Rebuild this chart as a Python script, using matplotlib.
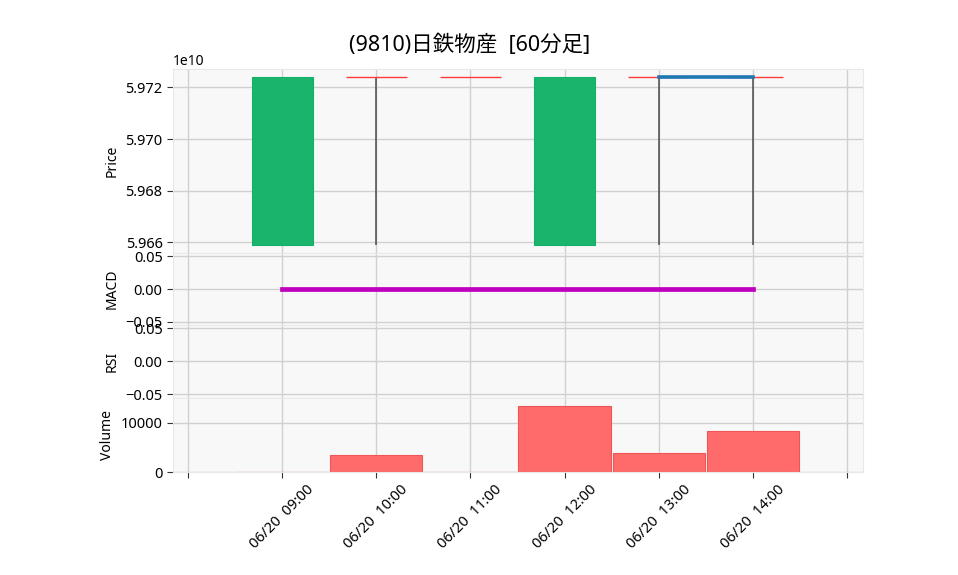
import numpy as np
import matplotlib
matplotlib.use('Agg')
import matplotlib.pyplot as plt
from matplotlib.patches import Rectangle
from matplotlib.ticker import MultipleLocator

plt.rcParams['font.family'] = ['Noto Sans', 'Noto Sans CJK JP', 'DejaVu Sans']

# data
times = ['06/20  09:00', '06/20  10:00', '06/20  11:00',
         '06/20  12:00', '06/20  13:00', '06/20  14:00']
opens = [59659200000, 59724000000, 59724000000, 59659200000, 59724000000, 59724000000]
highs = [59724000000, 59724000000, 59724000000, 59724000000, 59724000000, 59724000000]
lows = [59659200000, 59659200000, 59724000000, 59659200000, 59659200000, 59659200000]
closes = [59724000000, 59724000000, 59724000000, 59724000000, 59724000000, 59724000000]
mav = [np.nan, np.nan, np.nan, np.nan, 59724000000, 59724000000]
macd = [0, 0, 0, 0, 0, 0]
volumes = [0, 3530, 0, 13470, 3900, 8430]

up_col = '#1bb46c'
down_col = '#ff3b3b'
vol_col = '#ff6b6b'
bg = '#f8f8f8'

fig = plt.figure(figsize=(9.58, 5.75), dpi=100)
gs = fig.add_gridspec(4, 1, height_ratios=[184, 72, 72.5, 74.5], hspace=0,
                      left=0.1806, right=0.9008, top=0.88, bottom=0.179)
ax_p = fig.add_subplot(gs[0])
ax_m = fig.add_subplot(gs[1], sharex=ax_p)
ax_r = fig.add_subplot(gs[2], sharex=ax_p)
ax_v = fig.add_subplot(gs[3], sharex=ax_p)

x = np.arange(len(times))
w = 0.65

# candles
for i in x:
    o, h, l, c = opens[i], highs[i], lows[i], closes[i]
    if h != l:
        ax_p.vlines(i, l, h, color='#333333', lw=1.2, alpha=0.8, zorder=2)
    if c > o:
        ax_p.add_patch(Rectangle((i - w / 2, o), w, c - o, facecolor=up_col,
                                 edgecolor='#12b068', lw=0.8, zorder=3))
    else:
        ax_p.hlines(o, i - w / 2, i + w / 2, color=down_col, lw=1.0, zorder=3)
ax_p.plot(x, mav, color='#1f77b4', lw=2.6, zorder=4)
ax_p.set_ylim(59655900000, 59727100000)
ax_p.yaxis.set_major_locator(MultipleLocator(2e7))
ax_p.set_ylabel('Price', fontsize=10)

# MACD
ax_m.plot(x, macd, color='#bf00bf', lw=3.4)
ax_m.set_ylim(-0.055, 0.055)
ax_m.set_yticks([-0.05, 0.0, 0.05])
ax_m.set_ylabel('MACD', fontsize=10)

# RSI (empty)
ax_r.set_ylim(-0.055, 0.055)
ax_r.set_yticks([-0.05, 0.0, 0.05])
ax_r.set_ylabel('RSI', fontsize=10)

# volume
ax_v.bar(x, volumes, width=0.98, color=vol_col, edgecolor='#f05555', lw=0.8)
ax_v.set_ylim(0, 15150)
ax_v.set_yticks([0, 10000])
ax_v.set_ylabel('Volume', fontsize=10)

ax_v.set_xlim(-1.16, 6.17)
ax_v.set_xticks(np.arange(-1, 7))
ax_v.set_xticklabels([''] + times + [''], rotation=45, fontsize=10.5)

for ax in [ax_p, ax_m, ax_r, ax_v]:
    ax.set_facecolor(bg)
    ax.grid(True, color='#d0d0d0', lw=1.0)
    ax.set_axisbelow(True)
    for s in ax.spines.values():
        s.set_color('#e8e8e8')
    ax.tick_params(axis='y', labelsize=10.5, length=4, color='#333333')
    ax.tick_params(axis='x', length=4, color='#333333')
    if ax is not ax_v:
        ax.tick_params(axis='x', labelbottom=False, length=0)

fig.text(0.49, 0.922, '(9810)日鉄物産  [60分足]', fontsize=15.5, ha='center', va='center')

fig.savefig('out.png', dpi=100)
